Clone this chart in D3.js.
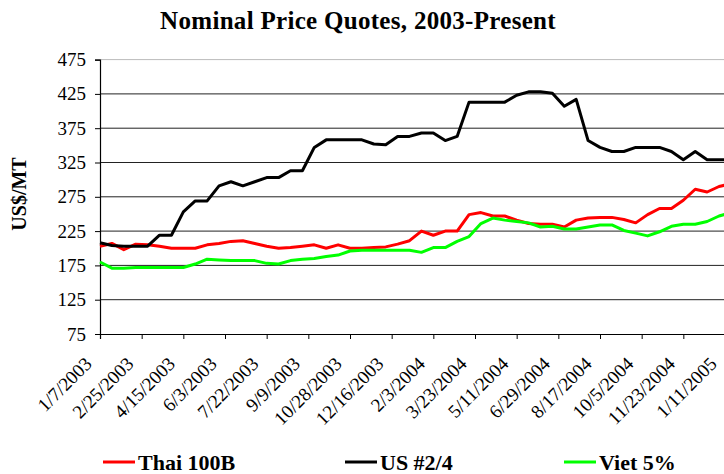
<!DOCTYPE html>
<html>
<head>
<meta charset="utf-8">
<script src="https://cdn.jsdelivr.net/npm/d3@7"></script>
<style>
    body { margin: 0; background: #fff; }
    svg { display: block; font-family: 'Liberation Serif', 'Times New Roman', serif; }
</style>
</head>
<body>
<div id="chart"></div>
<script>
// biweekly quote dates
const dates = [
    '1/7/2003', '1/21/2003', '2/4/2003', '2/18/2003', '3/4/2003', '3/18/2003', '4/1/2003',
    '4/15/2003', '4/29/2003', '5/13/2003', '5/27/2003', '6/10/2003', '6/24/2003', '7/8/2003',
    '7/22/2003', '8/5/2003', '8/19/2003', '9/2/2003', '9/16/2003', '9/30/2003', '10/14/2003',
    '10/28/2003', '11/11/2003', '11/25/2003', '12/9/2003', '12/23/2003', '1/6/2004', '1/20/2004',
    '2/3/2004', '2/17/2004', '3/2/2004', '3/16/2004', '3/30/2004', '4/13/2004', '4/27/2004',
    '5/11/2004', '5/25/2004', '6/8/2004', '6/22/2004', '7/6/2004', '7/20/2004', '8/3/2004',
    '8/17/2004', '8/31/2004', '9/14/2004', '9/28/2004', '10/12/2004', '10/26/2004', '11/9/2004',
    '11/23/2004', '12/7/2004', '12/21/2004', '1/4/2005', '1/18/2005'
];

const thai100B = [
    203, 207, 198, 206, 205, 203, 200, 200, 200, 205, 207, 210, 211, 207, 203, 200, 201, 203,
    205, 200, 205, 200, 200, 201, 202, 206, 211, 225, 219, 225, 225, 249, 252, 247, 247, 241,
    236, 235, 235, 231, 241, 244, 245, 245, 242, 237, 249, 258, 258, 270, 286, 282, 290, 294
];

const us24 = [
    208, 204, 203, 203, 203, 219, 219, 253, 269, 269, 291, 297, 291, 297, 303, 303, 313, 313,
    347, 358, 358, 358, 358, 352, 351, 363, 363, 368, 368, 357, 363, 413, 413, 413, 413, 423,
    428, 428, 426, 407, 417, 357, 347, 341, 341, 347, 347, 347, 341, 329, 341, 329, 329, 329
];

const viet5 = [
    180, 171, 171, 172, 172, 172, 172, 172, 177, 184, 183, 182, 182, 182, 178, 177, 182, 184,
    185, 188, 190, 196, 197, 197, 197, 197, 197, 194, 201, 201, 210, 217, 236, 244, 241, 239,
    237, 231, 232, 228, 228, 231, 234, 234, 226, 222, 218, 224, 232, 235, 235, 239, 247, 252
];

const tickLabels = [
    '1/7/2003', '2/25/2003', '4/15/2003', '6/3/2003', '7/22/2003', '9/9/2003', '10/28/2003',
    '12/16/2003', '2/3/2004', '3/23/2004', '5/11/2004', '6/29/2004', '8/17/2004', '10/5/2004',
    '11/23/2004', '1/11/2005'
];

const yTicks = [75, 125, 175, 225, 275, 325, 375, 425, 475];

const seriesNames = ['Thai 100B', 'US #2/4', 'Viet 5%'];
const seriesColors = ['#ff0000', '#000000', '#00ff00'];

const parseDate = d3.timeParse('%m/%d/%Y');
const serif = "'Liberation Serif', 'Times New Roman', serif";

function drawChart() {
    const width = 724;
    const height = 474;
    const margins = { left: 100, top: 59.6, right: -1, bottom: 140 };

    const svg = d3.select('#chart')
        .append('svg')
        .attr('width', width)
        .attr('height', height);

    svg.append('rect')
        .attr('width', width)
        .attr('height', height)
        .attr('fill', '#fff');

    const xScale = d3.scaleTime()
        .domain([parseDate(tickLabels[0]), parseDate(tickLabels[tickLabels.length - 1])])
        .range([margins.left, width - margins.right]);

    const yScale = d3.scaleLinear()
        .domain([75, 475])
        .range([height - margins.bottom, margins.top]);

    // gridlines
    svg.append('g')
        .selectAll('line')
        .data(yTicks.slice(1))
        .enter()
        .append('line')
        .attr('x1', margins.left)
        .attr('x2', width)
        .attr('y1', d => yScale(d))
        .attr('y2', d => yScale(d))
        .attr('stroke', d => d === 475 ? '#bbb' : '#222')
        .attr('stroke-width', 1);

    const yAxis = d3.axisLeft(yScale)
        .tickValues(yTicks)
        .tickSize(5)
        .tickPadding(9);

    svg.append('g')
        .classed('y-axis', true)
        .attr('transform', `translate(${margins.left}, 0)`)
        .call(yAxis)
        .call(g => g.select('.domain').attr('stroke', '#000').attr('stroke-width', 1.2))
        .selectAll('text')
        .style('font-family', serif)
        .style('font-size', '19px')
        .attr('fill', '#000');

    const xAxis = d3.axisBottom(xScale)
        .tickValues(tickLabels.map(parseDate))
        .tickSize(5)
        .tickFormat('');

    svg.append('g')
        .classed('x-axis', true)
        .attr('transform', `translate(0, ${yScale(75)})`)
        .call(xAxis)
        .call(g => g.select('.domain').attr('stroke', '#000').attr('stroke-width', 1.2));

    svg.append('g')
        .selectAll('text')
        .data(tickLabels)
        .enter()
        .append('text')
        .attr('transform', d => `translate(${xScale(parseDate(d)) - 7}, ${yScale(75) + 31}) rotate(-45)`)
        .style('text-anchor', 'end')
        .style('font-size', '19px')
        .text(d => d);

    const series = [thai100B, us24, viet5];
    const line = d3.line()
        .x((d, i) => xScale(parseDate(dates[i])))
        .y(d => yScale(d));

    svg.append('g')
        .selectAll('path')
        .data(series)
        .enter()
        .append('path')
        .attr('fill', 'none')
        .attr('stroke', (d, i) => seriesColors[i])
        .attr('stroke-width', 3)
        .attr('stroke-linejoin', 'round')
        .attr('d', line);

    // title
    svg.append('text')
        .attr('x', 358)
        .attr('y', 29)
        .style('text-anchor', 'middle')
        .style('font-size', '25px')
        .style('font-weight', 'bold')
        .style('letter-spacing', '0.3px')
        .text('Nominal Price Quotes, 2003-Present');

    svg.append('text')
        .attr('transform', 'translate(26, 194) rotate(-90)')
        .style('text-anchor', 'middle')
        .style('font-size', '20px')
        .style('font-weight', 'bold')
        .text('US$/MT');

    // legend
    const legendX = [103, 345, 564];
    const legend = svg.append('g')
        .selectAll('g')
        .data(seriesNames)
        .enter()
        .append('g')
        .attr('transform', (d, i) => `translate(${legendX[i]}, 462)`);

    legend.append('line')
        .attr('x1', 0)
        .attr('x2', 32)
        .attr('stroke', (d, i) => seriesColors[i])
        .attr('stroke-width', 3);

    legend.append('text')
        .attr('x', 35)
        .attr('y', 8)
        .style('font-size', '22px')
        .style('font-weight', 'bold')
        .text(d => d);
}

drawChart();
</script>
</body>
</html>
